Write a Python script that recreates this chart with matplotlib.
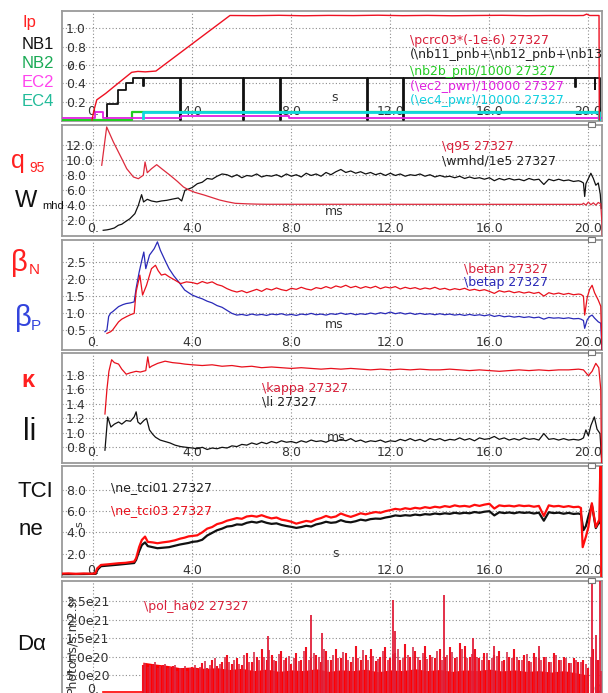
import numpy as np
import matplotlib
matplotlib.use("Agg")
import matplotlib.pyplot as plt
from matplotlib.transforms import offset_copy
from matplotlib.patches import Rectangle

# ---------------- data (shot 27327) ----------------
xticks = [0, 4, 8, 12, 16, 20]
xlabels = ["0.", "4.0", "8.0", "12.0", "16.0", "20.0"]

steady_t = np.round(np.arange(4.0, 19.61, 0.2), 1)     # 79 samples
steady_t4 = np.round(np.arange(4.0, 19.61, 0.4), 1)    # 40 samples

# panel 1: Ip / NBI / ECH
ip_t = [-0.05, 0.02, 0.14, 0.5, 1.0, 1.55, 1.8, 2.1, 2.53, 5.52, 6.5, 7.5, 8.5, 9.5, 10.5,
        11.5, 12.5, 13.5, 14.5, 15.5, 16.5, 17.5, 18.5, 19.5, 19.8, 19.93, 20.05, 20.43, 20.44]
ip = [0.0, 0.1, 0.22, 0.29, 0.40, 0.52, 0.53, 0.525, 0.534, 1.14, 1.138, 1.142, 1.137, 1.141,
      1.139, 1.143, 1.138, 1.141, 1.137, 1.14, 1.142, 1.138, 1.14, 1.139, 1.14, 1.155, 1.14, 1.14, 0.0]
nb1_t = [-1.3, 0.55, 1.0, 1.33, 1.6, 2.02, 2.05, 3.5, 3.53, 6.04, 6.07, 7.55, 7.58, 11.05, 11.08,
         12.52, 12.55, 19.45, 19.48, 20.25, 20.28, 20.45]
nb1 = [0.0, 0.17, 0.33, 0.40, 0.46, 0.37, 0.46, 0.0, 0.46, 0.0, 0.46, 0.0, 0.46, 0.0, 0.46,
       0.0, 0.46, 0.36, 0.46, 0.34, 0.46, 0.0]
nb2_t = [-1.3, 1.55, 20.43]
nb2 = [0.0, 0.09, 0.0]
ec2_t = [-1.3, 0.05, 0.4, 3.55, 7.9, 20.6]
ec2 = [0.02, 0.09, 0.02, 0.045, 0.02, 0.02]
ec4_t = [2.0, 2.02, 20.43]
ec4 = [0.02, 0.09, 0.0]

# panel 2: q95, Wmhd/1e5
q95_t = [0.34, 0.54, 0.81, 1.15, 1.35, 1.62, 1.82, 2.02, 2.09, 2.18, 2.35, 2.56, 2.8, 3.1, 3.4,
         3.64, 3.84, 4.1, 4.47, 4.8, 5.1, 5.4, 5.73, 6.2, 6.6, 7.0, 19.75, 19.8, 19.9, 20.0,
         20.1, 20.2, 20.3, 20.4, 20.5, 20.55, 20.56]
q95 = [9.36, 14.47, 12.47, 10.24, 8.9, 7.8, 7.57, 8.03, 9.8, 8.37, 8.9, 9.44, 8.8, 8.03, 7.2,
       6.47, 6.1, 5.75, 5.4, 5.05, 4.73, 4.5, 4.29, 4.22, 4.18, 4.16, 4.15, 4.3, 4.05, 4.45,
       4.1, 4.35, 4.05, 4.4, 4.2, 1.5, -0.1]
wmhd_t_early = [0.40, 0.55, 0.67, 0.85, 1.01, 1.15, 1.28, 1.48, 1.68, 1.82, 1.95, 2.03, 2.18,
                2.35, 2.56, 2.75, 2.97, 3.2, 3.43, 3.57, 3.7, 3.85]
wmhd_early = [0.69, 0.75, 0.83, 1.0, 1.36, 1.5, 1.8, 2.24, 2.91, 4.02, 5.44, 4.47, 4.82,
              4.6, 4.47, 4.6, 4.69, 4.85, 5.0, 4.6, 6.02, 6.2]
wmhd_steady = [6.4, 6.9, 7.1, 7.6, 7.5, 7.9, 8.2, 8.1, 7.8, 8.1, 7.7, 8.0, 7.9, 8.2, 7.8, 8.0,
               7.9, 8.1, 7.8, 8.2, 7.9, 8.1, 7.8, 8.3, 8.0, 8.2, 7.9, 8.4, 8.1, 8.5, 8.8, 8.4,
               8.6, 8.3, 8.5, 8.2, 8.4, 8.1, 8.3, 8.0, 8.3, 8.0, 8.2, 7.9, 8.1, 8.0, 8.2, 7.9,
               8.1, 7.8, 8.0, 7.8, 7.9, 7.7, 7.9, 7.6, 7.8, 7.6, 7.7, 7.5, 7.7, 7.3, 7.6, 7.4,
               7.6, 7.4, 7.5, 7.3, 7.6, 7.4, 7.5, 6.8, 7.5, 7.3, 7.5, 7.3, 7.4, 7.2, 7.3]
wmhd_t_end = [19.7, 19.8, 19.85, 19.9, 20.0, 20.1, 20.2, 20.3, 20.4, 20.48, 20.52]
wmhd_end = [7.2, 7.0, 5.2, 6.9, 7.6, 8.3, 7.6, 6.7, 7.0, 5.5, 3.6]

# panel 3: betaN, betaP
betan_t_early = [0.55, 0.7, 0.78, 0.9, 1.02, 1.15, 1.33, 1.5, 1.65, 1.73, 1.88, 1.99, 2.15,
                 2.35, 2.51, 2.62, 2.75, 2.9, 3.06, 3.3, 3.53, 3.76]
betan_early = [0.40, 0.45, 0.5, 0.62, 0.74, 0.82, 0.89, 0.95, 0.99, 1.63, 2.12, 1.53, 1.82,
               2.31, 2.41, 2.25, 2.12, 2.15, 2.07, 1.97, 1.87, 1.92]
betan_steady = [1.90, 1.86, 1.93, 1.88, 1.92, 1.84, 1.80, 1.72, 1.66, 1.62, 1.66, 1.60, 1.65,
                1.70, 1.64, 1.72, 1.68, 1.74, 1.69, 1.66, 1.73, 1.70, 1.76, 1.71, 1.68, 1.75,
                1.72, 1.78, 1.73, 1.80, 1.76, 1.82, 1.75, 1.79, 1.73, 1.78, 1.74, 1.79, 1.72,
                1.77, 1.74, 1.78, 1.71, 1.76, 1.72, 1.75, 1.70, 1.74, 1.71, 1.76, 1.70, 1.73,
                1.68, 1.72, 1.69, 1.73, 1.67, 1.70, 1.66, 1.69, 1.64, 1.58, 1.66, 1.62, 1.65,
                1.60, 1.63, 1.59, 1.62, 1.58, 1.61, 1.50, 1.60, 1.56, 1.59, 1.55, 1.58, 1.54, 1.56]
betan_t_end = [19.7, 19.8, 19.85, 19.95, 20.05, 20.15, 20.25, 20.4, 20.5, 20.55]
betan_end = [1.55, 1.50, 0.94, 1.45, 1.7, 1.82, 1.6, 1.38, 1.2, -0.1]
betap_t_early = [0.47, 0.55, 0.62, 0.7, 0.78, 1.02, 1.2, 1.33, 1.5, 1.65, 1.73, 1.85, 1.96,
                 2.04, 2.12, 2.27, 2.46, 2.59, 2.71, 2.9, 3.06, 3.25, 3.45, 3.69, 3.85]
betap_early = [0.45, 0.5, 0.9, 1.0, 1.04, 1.19, 1.25, 1.28, 1.3, 1.33, 1.73, 2.2, 2.56,
               2.8, 2.31, 2.71, 2.9, 3.1, 2.85, 2.55, 2.31, 2.1, 1.92, 1.68, 1.6]
betap_steady = [1.53, 1.47, 1.42, 1.35, 1.30, 1.22, 1.17, 1.08, 0.99, 0.94, 0.96, 0.93, 0.97,
                0.94, 0.96, 0.93, 0.97, 0.95, 0.98, 0.94, 0.96, 0.93, 0.97, 0.95, 0.99, 0.95,
                0.97, 0.94, 0.98, 0.96, 1.0, 0.96, 0.99, 0.95, 0.98, 0.96, 1.0, 0.97, 1.01,
                0.98, 1.03, 0.98, 1.01, 0.97, 1.0, 0.96, 0.99, 0.96, 0.98, 0.95, 0.98, 0.95,
                0.97, 0.94, 0.96, 0.93, 0.96, 0.93, 0.95, 0.92, 0.95, 0.90, 0.93, 0.89, 0.91,
                0.88, 0.90, 0.87, 0.89, 0.86, 0.88, 0.82, 0.87, 0.85, 0.86, 0.84, 0.86, 0.83, 0.84]
betap_t_end = [19.7, 19.8, 19.85, 19.95, 20.05, 20.15, 20.25, 20.4, 20.5, 20.55]
betap_end = [0.82, 0.78, 0.55, 0.8, 0.9, 0.94, 0.85, 0.74, 0.7, -0.1]

# panel 4: kappa, li
kappa_t_early = [0.47, 0.55, 0.63, 0.74, 0.85, 1.02, 1.15, 1.33, 1.5, 1.73, 1.9, 2.12, 2.2,
                 2.27, 2.35, 2.6, 2.9, 3.2, 3.5, 3.69]
kappa_early = [1.26, 1.6, 1.85, 2.01, 1.97, 1.95, 1.88, 1.81, 1.83, 1.85, 1.84, 1.86, 2.05,
               1.9, 1.92, 1.96, 1.99, 1.97, 1.96, 1.95]
kappa_steady = [1.94, 1.93, 1.94, 1.92, 1.93, 1.91, 1.92, 1.90, 1.91, 1.90,
                1.89, 1.90, 1.89, 1.88, 1.89, 1.88, 1.89, 1.88, 1.87, 1.88,
                1.87, 1.88, 1.87, 1.88, 1.87, 1.87, 1.88, 1.87, 1.86, 1.87,
                1.86, 1.85, 1.86, 1.87, 1.86, 1.87, 1.86, 1.87, 1.87, 1.88]
kappa_t_end = [19.8, 20.0, 20.15, 20.3, 20.42, 20.5, 20.53]
kappa_end = [1.87, 1.79, 1.85, 1.96, 1.9, 1.6, 0.55]
li_t_early = [0.47, 0.58, 0.71, 0.85, 1.02, 1.15, 1.33, 1.5, 1.65, 1.73, 1.8, 1.9, 2.04,
              2.15, 2.27, 2.4, 2.51, 2.7, 2.9, 3.1, 3.3, 3.53, 3.75]
li_early = [0.76, 1.22, 1.08, 1.12, 1.15, 1.12, 1.17, 1.16, 1.22, 1.29, 1.15, 1.12, 1.17,
            1.2, 1.04, 0.98, 0.94, 0.9, 0.88, 0.86, 0.83, 0.81, 0.8]
li_steady = [0.79, 0.78, 0.80, 0.77, 0.79, 0.78, 0.80, 0.79, 0.82, 0.81, 0.84, 0.83, 0.86,
             0.84, 0.87, 0.85, 0.88, 0.86, 0.89, 0.87, 0.88, 0.86, 0.89, 0.87, 0.90, 0.88,
             0.89, 0.87, 0.90, 0.88, 0.91, 0.89, 0.92, 0.88, 0.90, 0.87, 0.89, 0.88, 0.90,
             0.87, 0.89, 0.88, 0.91, 0.89, 0.92, 0.89, 0.91, 0.88, 0.92, 0.90, 0.92, 0.89,
             0.91, 0.90, 0.93, 0.90, 0.92, 0.89, 0.93, 0.91, 0.92, 0.95, 0.91, 0.93, 0.90,
             0.92, 0.90, 0.93, 0.91, 0.92, 0.90, 0.99, 0.91, 0.92, 0.90, 0.92, 0.90, 0.91, 0.90]
li_t_end = [19.7, 19.8, 19.9, 20.0, 20.1, 20.24, 20.35, 20.47, 20.52, 20.55]
li_end = [0.91, 0.93, 1.04, 0.96, 1.1, 1.22, 1.05, 0.99, 0.7, 0.59]

# panel 5: TCI line densities
ne3_t_early = [-1.26, -1.0, -0.7, -0.4, -0.1, 0.08, 0.16, 0.31, 0.6, 1.02, 1.3, 1.65, 1.73,
               1.85, 1.96, 2.09, 2.2, 2.4, 2.59, 2.8, 3.06, 3.3, 3.5, 3.69, 3.85]
ne3_early = [0.1, 0.12, 0.08, 0.11, 0.09, 0.12, 0.6, 0.92, 0.98, 1.08, 1.12, 1.24, 1.56,
             2.6, 3.28, 3.6, 3.1, 3.05, 2.97, 3.05, 3.13, 3.25, 3.4, 3.5, 3.62]
ne3_steady = [3.66, 3.72, 4.0, 4.35, 4.5, 4.78, 4.9, 5.1, 5.22, 5.35, 5.28, 5.5, 5.56, 5.48,
              5.62, 5.45, 5.32, 5.4, 5.2, 5.12, 5.0, 4.82, 4.95, 5.08, 5.0, 5.22, 5.35, 5.55,
              5.4, 5.5, 5.78, 5.6, 5.46, 5.62, 5.8, 5.7, 5.82, 5.92, 5.85, 6.0, 6.1, 6.22,
              6.15, 6.28, 6.2, 6.32, 6.25, 6.38, 6.3, 6.42, 6.35, 6.48, 6.4, 6.55, 6.45, 6.5,
              6.42, 6.6, 6.5, 6.62, 6.7, 6.25, 6.55, 6.48, 6.52, 6.45, 6.55, 6.48, 6.52, 6.42,
              6.5, 5.55, 6.55, 6.45, 6.5, 6.4, 6.48, 6.38, 6.42]
ne3_t_end = [19.7, 19.77, 19.9, 20.0, 20.14, 20.3, 20.44, 20.48, 20.5, 20.52]
ne3_end = [6.3, 2.6, 3.6, 4.5, 6.75, 4.5, 5.2, 9.9, 10.3, -0.3]
ne1_t_early = [-1.26, -0.5, 0.1, 0.18, 0.31, 1.02, 1.65, 1.73, 1.85, 1.96, 2.09, 2.2, 2.59,
               3.06, 3.5, 3.85]
ne1_early = [0.05, 0.06, 0.08, 0.5, 0.8, 0.95, 1.1, 1.4, 2.2, 2.8, 3.05, 2.7, 2.5, 2.6,
             2.85, 3.0]
ne1_steady = [3.1, 3.15, 3.3, 3.7, 3.95, 4.2, 4.35, 4.55, 4.6, 4.75, 4.72, 4.9, 5.0, 4.92,
              5.05, 4.9, 4.8, 4.85, 4.7, 4.6, 4.52, 4.42, 4.5, 4.62, 4.55, 4.75, 4.85, 5.0,
              4.9, 4.95, 5.15, 5.0, 4.95, 5.05, 5.2, 5.12, 5.25, 5.3, 5.28, 5.4, 5.48, 5.6,
              5.55, 5.62, 5.58, 5.68, 5.62, 5.72, 5.68, 5.78, 5.72, 5.8, 5.75, 5.85, 5.78,
              5.85, 5.8, 5.92, 5.85, 5.95, 6.0, 5.6, 5.9, 5.82, 5.88, 5.8, 5.9, 5.84, 5.88,
              5.78, 5.86, 5.1, 5.9, 5.82, 5.86, 5.76, 5.84, 5.74, 5.78]
ne1_t_end = [19.7, 19.8, 19.9, 20.0, 20.14, 20.3, 20.44, 20.5]
ne1_end = [5.7, 4.2, 4.6, 5.5, 6.6, 4.4, 5.0, 4.8]

# panel 6: D-alpha (units of 1e21 photons/s.m2.sr)
da_pre_t = [0.4, 1.95]
da_pre = [0.05, 0.05]
da_base_t = np.round(np.arange(2.0, 20.01, 0.5), 1)    # 37 samples
da_base = [0.85, 0.8, 0.76, 0.7, 0.72, 0.68, 0.7, 0.65, 0.68, 0.62, 0.66, 0.6, 0.64, 0.62,
           0.67, 0.6, 0.64, 0.62, 0.66, 0.59, 0.64, 0.62, 0.67, 0.62, 0.65, 0.6, 0.64, 0.62,
           0.66, 0.61, 0.64, 0.6, 0.62, 0.58, 0.62, 0.56, 0.5]
da_spike_t = np.round(np.arange(2.0, 20.41, 0.2), 1)   # 93 samples
da_spike = [0.78, 0.72, 0.8, 0.7, 0.76, 0.68, 0.74, 0.62, 0.7, 0.6, 0.72, 0.66, 0.82, 0.7,
            0.9, 0.75, 0.85, 1.05, 0.8, 0.95, 0.78, 1.1, 0.85, 0.98, 1.2, 0.9, 1.05, 0.88,
            1.15, 0.95, 0.8, 1.1, 0.9, 1.25, 0.95, 1.05, 0.85, 1.15, 0.9, 1.2, 0.95, 1.1,
            0.85, 1.3, 0.9, 1.05, 1.2, 0.88, 1.0, 1.25, 0.95, 1.1, 0.9, 1.35, 1.0, 1.15, 0.92,
            1.3, 1.05, 0.95, 1.2, 1.0, 1.27, 0.95, 1.36, 1.3, 1.0, 1.2, 0.95, 1.1, 0.9, 1.05,
            1.15, 0.9, 1.0, 1.2, 0.92, 1.05, 0.88, 1.1, 0.95, 1.0, 0.85, 1.1, 0.9, 1.0, 0.82,
            0.95, 0.85, 0.9, 0.7, 1.2, 0.9]
da_spike2_t = np.round(np.arange(2.1, 20.51, 0.2), 1)  # 93 samples, in between
da_spike2 = [0.82, 0.76, 0.85, 0.74, 0.8, 0.72, 0.78, 0.7, 0.75, 0.68,
             0.78, 0.72, 0.88, 0.76, 0.95, 0.8, 1.0, 0.85, 0.92, 0.8,
             1.05, 0.86, 1.12, 0.9, 1.0, 1.18, 0.92, 1.08, 0.9, 1.02,
             0.95, 0.88, 1.15, 0.92, 1.1, 0.98, 1.22, 0.9, 1.05, 0.96,
             1.12, 0.92, 1.0, 0.95, 1.18, 0.9, 1.02, 0.94, 1.15, 0.9,
             1.08, 1.2, 0.95, 1.05, 1.25, 0.98, 1.1, 0.94, 1.0, 1.15,
             0.92, 1.05, 1.12, 0.98, 1.22, 0.95, 1.08, 1.0, 0.9, 1.1,
             0.95, 1.02, 0.88, 1.12, 0.96, 1.0, 0.9, 1.08, 0.86, 1.0,
             0.92, 0.98, 0.85, 1.05, 0.9, 0.95, 0.82, 0.9, 0.85, 0.8,
             1.0, 0.9, 0.6]
da_tall_t = [7.05, 8.8, 9.25, 12.1, 12.2, 14.15, 15.35, 16.2, 18.0, 20.15, 20.3, 20.45]
da_tall = [1.55, 2.13, 1.65, 2.54, 1.7, 2.67, 1.5, 1.3, 1.3, 3.1, 1.6, 3.1]

# ---------------- figure ----------------
W, H = 608, 693
fig = plt.figure(figsize=(W / 100, H / 100), dpi=100)
fig.patch.set_facecolor("white")

RED = "#ee1122"
TXT = "#333333"


def px_axes(top, bottom):
    return fig.add_axes([62 / W, 1 - bottom / H, 540 / W, (bottom - top) / H])


def setup(ax, ylim, yticks, ylabels, xlab_dy=9):
    ax.set_xlim(-1.265, 20.55)
    ax.set_ylim(*ylim)
    ax.set_xticks(xticks)
    ax.set_yticks(yticks)
    ax.tick_params(length=0, labelbottom=False, labelleft=False)
    ax.grid(True, color="#8c8c8c", linestyle=(0, (1, 2)), linewidth=0.8)
    ax.set_axisbelow(True)
    for s in ax.spines.values():
        s.set_color("#9a9a9a")
        s.set_linewidth(1.3)
    ytr = offset_copy(ax.get_yaxis_transform(), fig=fig, x=4, y=0, units="dots")
    for v, lab in zip(yticks, ylabels):
        ax.text(0, v, lab, transform=ytr, ha="left", va="center_baseline",
                fontsize=9, color=TXT, zorder=1)
    xtr = offset_copy(ax.get_xaxis_transform(), fig=fig, x=0, y=xlab_dy, units="dots")
    for v, lab in zip(xticks, xlabels):
        ax.text(v, 0, lab, transform=xtr, ha="center", va="center_baseline",
                fontsize=9, color=TXT, zorder=1)


def label(x, y, s, color, size, **kw):
    fig.text(x / W, 1 - y / H, s, color=color, fontsize=size, va="baseline",
             ha="left", family="Liberation Sans", **kw)


tops = [(11, 121), (125, 236), (239.5, 350), (352.5, 462.5), (466, 577), (581, 695)]
axs = [px_axes(t, b) for t, b in tops]

# panel 1
ax = axs[0]
setup(ax, (-0.011, 1.189), [0.2, 0.4, 0.6, 0.8, 1.0], ["0.2", "0.4", "0.6", "0.8", "1.0"], 11)
ax.step(nb1_t, nb1, where="post", color="#111111", lw=1.3, zorder=3)
ax.step(nb2_t, nb2, where="post", color="#22cc22", lw=1.6, zorder=3)
ax.step(ec2_t, ec2, where="post", color="#e020e0", lw=1.3, zorder=4)
ax.step(ec4_t, ec4, where="post", color="#10d8e0", lw=2.0, zorder=4)
ax.plot(ip_t, ip, color=RED, lw=1.0, zorder=5)
for txt, yv, c in [(r"\pcrc03*(-1e-6) 27327", 0.865, "#d8203a"),
                   (r"(\nb11_pnb+\nb12_pnb+\nb13", 0.71, "#222222"),
                   (r"\nb2b_pnb/1000 27327", 0.53, "#22cc22"),
                   (r"(\ec2_pwr)/10000 27327", 0.37, "#e020e0"),
                   (r"(\ec4_pwr)/10000 27327", 0.21, "#10d0e0")]:
    ax.text(12.8, yv, txt, color=c, fontsize=9, va="center", clip_on=True, zorder=6)
ax.text(9.73, 0.25, "s", color=TXT, fontsize=9, ha="center", va="center")
ax.text(-0.9, 0.6, "s", color=TXT, fontsize=8, rotation=90, ha="center", va="center")

# panel 2
ax = axs[1]
setup(ax, (-0.07, 14.73), [2, 4, 6, 8, 10, 12], ["2.0", "4.0", "6.0", "8.0", "10.0", "12.0"])
ax.plot(np.concatenate([wmhd_t_early, steady_t, wmhd_t_end]),
        np.concatenate([wmhd_early, wmhd_steady, wmhd_end]), color="#111111", lw=0.9, zorder=3)
ax.plot(q95_t, q95, color="#dd2a3c", lw=0.9, zorder=4)
ax.text(14.1, 11.9, r"\q95 27327", color="#d8203a", fontsize=9, va="center")
ax.text(14.1, 9.9, r"\wmhd/1e5 27327", color="#222222", fontsize=9, va="center")
ax.text(9.73, 3.2, "ms", color=TXT, fontsize=9, ha="center", va="center")

# panel 3
ax = axs[2]
setup(ax, (-0.09, 3.17), [0.5, 1.0, 1.5, 2.0, 2.5], ["0.5", "1.0", "1.5", "2.0", "2.5"])
ax.plot(np.concatenate([betap_t_early, steady_t, betap_t_end]),
        np.concatenate([betap_early, betap_steady, betap_end]), color="#2a2ab8", lw=0.9, zorder=3)
ax.plot(np.concatenate([betan_t_early, steady_t, betan_t_end]),
        np.concatenate([betan_early, betan_steady, betan_end]), color="#e8101c", lw=0.9, zorder=4)
ax.text(14.97, 2.31, r"\betan 27327", color="#d8203a", fontsize=9, va="center")
ax.text(14.97, 1.89, r"\betap 27327", color="#2a2ab8", fontsize=9, va="center")
ax.text(9.73, 0.65, "ms", color=TXT, fontsize=9, ha="center", va="center")

# panel 4
ax = axs[3]
setup(ax, (0.59, 2.11), [0.8, 1.0, 1.2, 1.4, 1.6, 1.8],
      ["0.8", "1.0", "1.2", "1.4", "1.6", "1.8"], 12)
ax.plot(np.concatenate([li_t_early, steady_t, li_t_end]),
        np.concatenate([li_early, li_steady, li_end]), color="#111111", lw=0.9, zorder=3)
ax.plot(np.concatenate([kappa_t_early, steady_t4, kappa_t_end]),
        np.concatenate([kappa_early, kappa_steady, kappa_end]), color="#e8101c", lw=0.9, zorder=4)
ax.text(6.82, 1.61, r"\kappa 27327", color="#d8203a", fontsize=9, va="center")
ax.text(6.82, 1.42, r"\li 27327", color="#222222", fontsize=9, va="center")
ax.text(9.8, 0.94, "ms", color=TXT, fontsize=9, ha="center", va="center")

# panel 5
ax = axs[4]
setup(ax, (-0.22, 10.27), [2, 4, 6, 8], ["2.0", "4.0", "6.0", "8.0"], 8)
ax.plot(np.concatenate([ne1_t_early, steady_t, ne1_t_end]),
        np.concatenate([ne1_early, ne1_steady, ne1_end]), color="#111111", lw=1.6, zorder=3)
ax.plot(np.concatenate([ne3_t_early, steady_t, ne3_t_end]),
        np.concatenate([ne3_early, ne3_steady, ne3_end]), color="#ff0d0d", lw=1.6, zorder=4)
ax.text(0.7, 8.2, r"\ne_tci01 27327", color="#222222", fontsize=9, va="center")
ax.text(0.7, 6.1, r"\ne_tci03 27327", color="#e8101c", fontsize=9, va="center")
ax.text(9.8, 2.0, "s", color=TXT, fontsize=9, ha="center", va="center")
ax.text(-0.55, 4.8, "s", color=TXT, fontsize=8, rotation=90, ha="center", va="center")

# panel 6
ax = axs[5]
setup(ax, (-0.043, 3.054), [0.5, 1.0, 1.5, 2.0, 2.5],
      ["5.0e20", "1.0e20", "1.5e21", "2.0e21", "2.5e21"], 7)
ax.plot(da_pre_t, da_pre, color="#ff0000", lw=1.2, zorder=3)
ax.fill_between(da_base_t, 0, da_base, color="#ff0000", lw=0, zorder=3)
ax.vlines(da_spike_t, 0, da_spike, color="#f01020", lw=1.5, zorder=3)
ax.vlines(da_spike2_t, 0, da_spike2, color="#d8304a", lw=1.2, zorder=3)
ax.vlines(da_tall_t, 0, da_tall, color="#e0203a", lw=1.3, zorder=4)
ax.text(2.03, 2.35, r"\pol_ha02 27327", color="#d8203a", fontsize=9, va="center")
fig.text(72 / W, 1 - 644 / H, "Photons/s.m2.sr", rotation=90, color=TXT, fontsize=9,
         ha="center", va="center")

# little resize handles at the panel corners
for t, b in tops[1:]:
    fig.patches.append(Rectangle((588 / W, 1 - (t + 2) / H), 7 / W, 5 / H,
                                 transform=fig.transFigure, facecolor="white",
                                 edgecolor="#777777", lw=0.8, zorder=10))

# left-hand signal names
label(22, 26.7, "Ip", "#ff2222", 12)
label(22, 49.3, "NB1", "#111111", 12)
label(22, 68.3, "NB2", "#1aaa55", 12)
label(22, 87.3, "EC2", "#ff44ee", 12)
label(22, 106, "EC4", "#22bb99", 12)

label(11, 168, "q", "#ff2020", 18)
label(29, 172, "95", "#ff2020", 10)
label(15, 207, "W", "#111111", 17)
label(42, 209, "mhd", "#111111", 8)

label(11, 271, "\u03b2", "#ff2020", 21)
label(29, 274, "N", "#ff2020", 11)
label(15, 326, "\u03b2", "#3344dd", 21)
label(31, 330, "P", "#3344dd", 11)

label(21, 387, "\u03ba", "#ff2020", 17, weight="bold")
label(23, 440, "li", "#111111", 22)

label(17, 497, "TCI", "#111111", 16)
label(19, 535, "ne", "#111111", 16)
label(17, 650, "D\u03b1", "#111111", 16)

fig.savefig("out.png", dpi=100)
